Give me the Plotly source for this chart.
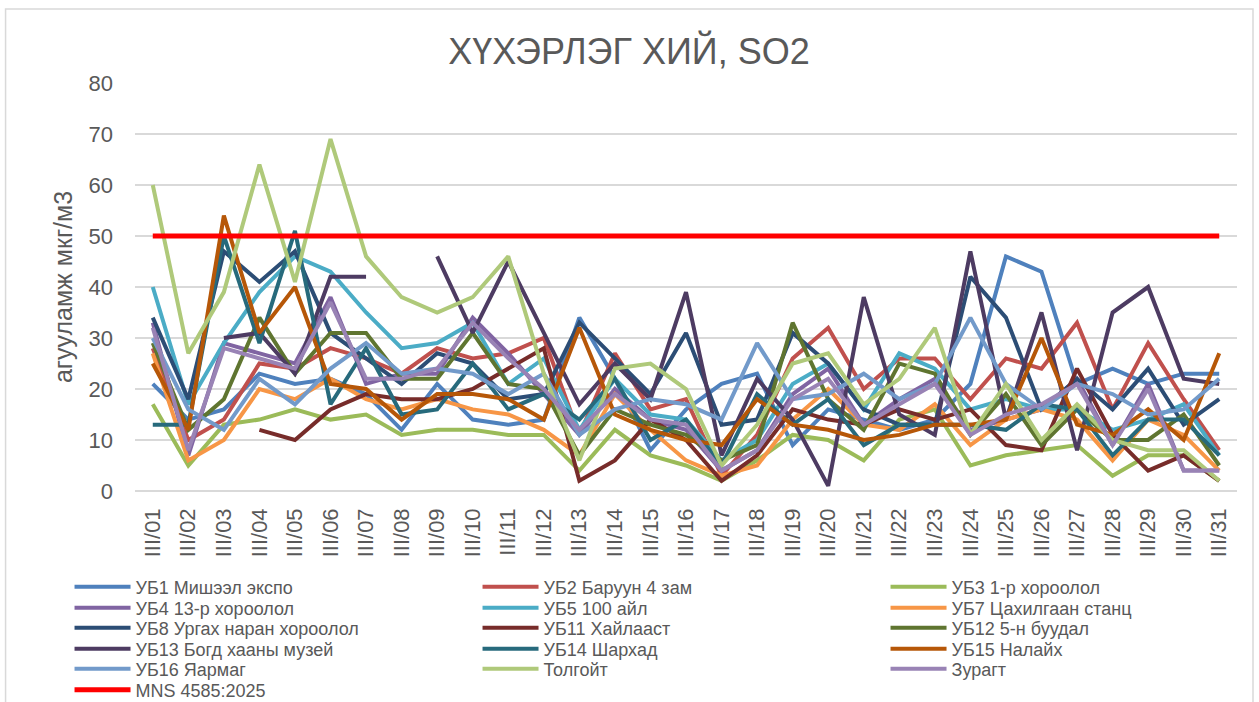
import plotly.graph_objects as go

days = ["III/01", "III/02", "III/03", "III/04", "III/05", "III/06", "III/07", "III/08",
        "III/09", "III/10", "III/11", "III/12", "III/13", "III/14", "III/15", "III/16",
        "III/17", "III/18", "III/19", "III/20", "III/21", "III/22", "III/23", "III/24",
        "III/25", "III/26", "III/27", "III/28", "III/29", "III/30", "III/31"]

ub1 = [21, 14, 16, 23, 21, 22, 19, 12, 21, 14, 13, 14, 34, 22, 8, 16, 21, 23, 9, 16, 14, 12, 14, 21, 46, 43, 21, 24, 21, 23, 23]
ub2 = [28, 10, 14, 25, 24, 28, 26, 23, 28, 26, 27, 30, 11, 27, 16, 18, 3, 11, 26, 32, 20, 26, 26, 18, 26, 24, 33, 16, 29, 18, 8]
ub3 = [17, 5, 13, 14, 16, 14, 15, 11, 12, 12, 11, 11, 4, 12, 7, 5, 2, 6, 11, 10, 6, 14, 16, 5, 7, 8, 9, 3, 7, 7, 2]
ub4 = [33, 7, 29, 27, 25, 38, 21, 23, 23, 34, 27, 19, 11, 20, 14, 12, 4, 8, 19, 24, 13, 18, 22, 12, 14, 16, 22, 9, 21, 4, 4]
ub5 = [40, 17, 29, 39, 46, 43, 35, 28, 29, 33, 21, 26, 12, 22, 15, 14, 6, 10, 21, 25, 16, 27, 24, 16, 18, 16, 16, 12, 14, 17, 7]
ub7 = [27, 6, 10, 20, 18, 22, 18, 16, 18, 16, 15, 12, 7, 19, 12, 6, 3, 5, 14, 20, 13, 12, 17, 9, 14, 16, 14, 6, 14, 11, 4]
ub8 = [34, 18, 47, 41, 47, 31, 26, 21, 27, 25, 18, 19, 33, 26, 19, 31, 13, 14, 31, 25, 16, 13, 13, 42, 34, 16, 22, 16, 24, 13, 18]
ub11 = [None, None, None, 12, 10, 16, 19, 18, 18, 20, 24, 28, 2, 6, 14, 10, 2, 7, 16, 14, 13, 16, 14, 16, 9, 8, 24, 11, 4, 7, 2]
ub12 = [29, 12, 18, 34, 23, 31, 31, 22, 22, 31, 21, 20, 7, 16, 13, 11, 6, 9, 33, 18, 12, 25, 23, 11, 19, 9, 16, 10, 10, 15, 5]
ub13 = [None, None, 30, 31, 23, 42, 42, None, 46, 31, 45, 31, 17, 25, 18, 39, 7, 22, 14, 1, 38, 15, 11, 47, 14, 35, 8, 35, 40, 22, 21]
ub14 = [13, 13, 50, 29, 51, 17, 28, 15, 16, 25, 16, 19, 14, 22, 10, 14, 5, 19, 13, 18, 9, 13, 13, 13, 12, 17, 16, 7, 14, 14, 7]
ub15 = [25, 12, 54, 31, 40, 21, 20, 14, 19, 19, 18, 14, 32, 15, 12, 10, 9, 18, 13, 12, 10, 11, 13, 13, 14, 30, 13, 11, 16, 10, 27]
ub16 = [30, 16, 12, 22, 17, 24, 29, 23, 24, 23, 19, 23, 11, 16, 18, 17, 14, 29, 18, 19, 23, 18, 21, 34, 21, 16, 21, 19, 15, 16, 22]
tolgoit = [60, 27, 39, 64, 41, 69, 46, 38, 35, 38, 46, 23, 6, 24, 25, 20, 5, 13, 25, 27, 17, 22, 32, 11, 21, 10, 17, 10, 8, 8, 2]
zuragt = [32, 8, 28, 26, 24, 37, 22, 22, 24, 33, 26, 20, 12, 19, 14, 13, 4, 8, 18, 22, 13, 17, 21, 11, 15, 17, 21, 9, 20, 4, 4]
mns = [50] * 31

series_names = ["УБ1 Мишээл экспо", "УБ2 Баруун 4 зам", "УБ3 1-р хороолол",
                "УБ4 13-р хороолол", "УБ5 100 айл", "УБ7 Цахилгаан станц",
                "УБ8 Ургах наран хороолол", "УБ11 Хайлааст", "УБ12 5-н буудал",
                "УБ13 Богд хааны музей", "УБ14 Шархад", "УБ15 Налайх",
                "УБ16 Яармаг", "Толгойт", "Зурагт", "MNS 4585:2025"]
series_values = [ub1, ub2, ub3, ub4, ub5, ub7, ub8, ub11, ub12, ub13, ub14, ub15,
                 ub16, tolgoit, zuragt, mns]
series_colors = ["#4F81BD", "#C0504D", "#9BBB59", "#8064A2", "#4BACC6", "#F79646",
                 "#2C4D75", "#772C2A", "#5F7530", "#4D3B62", "#276A7C", "#B65708",
                 "#729ACA", "#AFC97A", "#9983B5", "#FF0000"]

title_text = "ХҮХЭРЛЭГ ХИЙ, SO2"
y_title = "агууламж мкг/м3"

FONT = "Liberation Sans, Arial, sans-serif"
TXT = "#595959"

W, H = 1259, 702
L, R, T, B = 134.5, 22, 83, 211
pw, ph = W - L - R, H - T - B


def px_x(p):
    return (p - L) / pw


def px_y(p):
    return (H - B - p) / ph


n_cols = 3
legend_row_px = [587, 608, 628, 649, 669, 690]
legend_keys = ["legend" if i == 0 else "legend%d" % (i + 1) for i in range(len(legend_row_px))]

fig = go.Figure()
for i, (name, vals, col) in enumerate(zip(series_names, series_values, series_colors)):
    fig.add_trace(go.Scatter(
        x=days, y=vals, name=name, mode="lines",
        line=dict(color=col, width=5 if name.startswith("MNS") else 4),
        connectgaps=False, legend=legend_keys[i // n_cols],
    ))

legend_layouts = {}
for key, ypx in zip(legend_keys, legend_row_px):
    legend_layouts[key] = dict(
        orientation="h", x=px_x(69), xanchor="left", y=px_y(ypx), yanchor="middle",
        entrywidth=337, entrywidthmode="pixels", itemwidth=56,
        font=dict(size=18, color=TXT, family=FONT),
        traceorder="normal", bgcolor="rgba(0,0,0,0)", borderwidth=0,
    )

fig.update_layout(
    width=W, height=H,
    margin=dict(l=L, r=R, t=T, b=B, autoexpand=False),
    paper_bgcolor="white", plot_bgcolor="white",
    font=dict(family=FONT, color=TXT),
    title=dict(text=title_text, x=629 / W, xanchor="center", xref="container",
               y=1 - 51 / H, yanchor="middle", yref="container",
               font=dict(size=36, color=TXT, family=FONT)),
    showlegend=True,
    xaxis=dict(type="category", tickangle=-90, showgrid=False, showline=False,
               zeroline=False, ticks="", ticklabelstandoff=12,
               tickfont=dict(size=22, color=TXT, family=FONT),
               range=[-0.5, 30.5], fixedrange=True),
    yaxis=dict(range=[0, 80], dtick=10, tick0=0, showgrid=True, gridcolor="#D9D9D9",
               gridwidth=1.5, zeroline=True, zerolinecolor="#D9D9D9", zerolinewidth=1.5,
               showline=False, ticks="", ticklabelstandoff=21,
               tickfont=dict(size=22, color=TXT, family=FONT),
               title=dict(text=y_title, font=dict(size=25, color=TXT, family=FONT),
                          standoff=8)),
    shapes=[dict(type="rect", xref="paper", yref="paper",
                 x0=px_x(5), x1=px_x(1253), y0=px_y(712), y1=px_y(9),
                 line=dict(color="#D9D9D9", width=1.5), fillcolor="rgba(0,0,0,0)",
                 layer="below")],
    **legend_layouts,
)

fig.write_html(
    "out.html",
    config={"displayModeBar": False, "staticPlot": True},
    post_script="document.body.style.margin='0';document.body.style.padding='0';",
)
